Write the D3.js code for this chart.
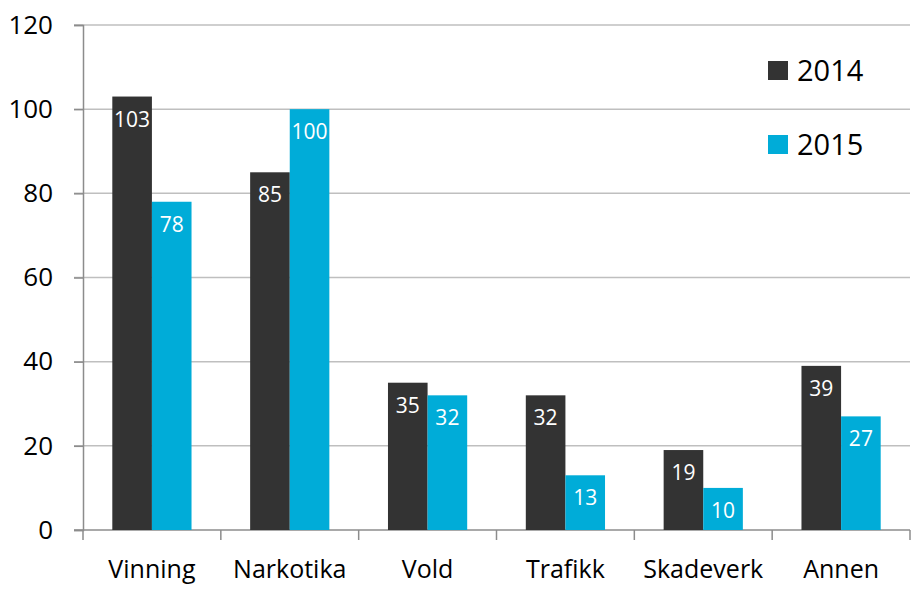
<!DOCTYPE html>
<head>
    <meta charset="utf-8">
    <script src="https://d3js.org/d3.v7.min.js"></script>
    <style>
      body { margin: 0; background: white; }
      text { font-family: "Open Sans", sans-serif; fill: #000; }
    </style>
</head>
<body>
    <script>
        var categories = ["Vinning", "Narkotika", "Vold", "Trafikk", "Skadeverk", "Annen"]
        var years = ["2014", "2015"]
        var values2014 = [103, 85, 35, 32, 19, 39]
        var values2015 = [78, 100, 32, 13, 10, 27]
        var yTicks = [0, 20, 40, 60, 80, 100, 120]
        var colors = ["#333333", "#00acd8"]

        var svg_w = 912, svg_h = 589
        var mLeft = 83, mRight = 910, mTop = 25, mBottom = 530

        var svg = d3.select("body").append("svg")
          .attr("width", svg_w)
          .attr("height", svg_h)

        var x0 = d3.scaleBand().domain(categories).range([mLeft, mRight]).padding(0)
        var x1 = d3.scaleBand().domain(years).range([0, x0.bandwidth()]).paddingInner(0).paddingOuter(0.74)
        var y = d3.scaleLinear().domain([0, 120]).range([mBottom, mTop])

        // gridlines
        svg.append("g").selectAll("line")
          .data(yTicks.filter(function(d){ return d > 0 }))
          .enter().append("line")
          .attr("x1", mLeft - 9).attr("x2", mRight)
          .attr("y1", function(d){ return y(d) }).attr("y2", function(d){ return y(d) })
          .attr("stroke", "#bfbfbf").attr("stroke-width", 1.5)

        // y axis
        var yAxis = svg.append("g")
          .attr("transform", "translate(" + mLeft + ",0)")
          .call(d3.axisLeft(y).tickValues(yTicks).tickSize(9).tickPadding(21))
        yAxis.select(".domain").attr("stroke", "#8c8c8c").attr("stroke-width", 1.5)
        yAxis.selectAll("line").attr("stroke", "#8c8c8c").attr("stroke-width", 1.5)
        yAxis.selectAll("text").attr("font-size", "26px").attr("fill", "#000")
          .attr("font-family", "'Open Sans', sans-serif")

        // x axis
        var xAxis = svg.append("g")
          .attr("transform", "translate(0," + mBottom + ")")
          .call(d3.axisBottom(x0).tickSize(0).tickPadding(30))
        xAxis.select(".domain").remove()
        xAxis.append("line").attr("x1", mLeft - 9).attr("x2", mRight)
          .attr("stroke", "#8c8c8c").attr("stroke-width", 1.5)
        xAxis.selectAll(".sep")
          .data(categories.concat(["end"]))
          .enter().append("line")
          .attr("x1", function(d, i){ return mLeft + i * x0.step() })
          .attr("x2", function(d, i){ return mLeft + i * x0.step() })
          .attr("y1", 0).attr("y2", 10)
          .attr("stroke", "#8c8c8c").attr("stroke-width", 1.5)
        xAxis.selectAll(".tick text").attr("font-size", "25px").attr("fill", "#000")
          .attr("font-family", "'Open Sans', sans-serif")

        // bars
        var rows = categories.map(function(c, i){
          return {cat: c, vals: [{year: "2014", v: values2014[i]}, {year: "2015", v: values2015[i]}]}
        })
        var groups = svg.append("g").selectAll("g")
          .data(rows).enter().append("g")
          .attr("transform", function(d){ return "translate(" + x0(d.cat) + ",0)" })

        groups.selectAll("rect")
          .data(function(d){ return d.vals })
          .enter().append("rect")
          .attr("x", function(d){ return x1(d.year) })
          .attr("width", x1.bandwidth())
          .attr("y", function(d){ return y(d.v) })
          .attr("height", function(d){ return mBottom - y(d.v) })
          .attr("fill", function(d, i){ return colors[i] })

        groups.selectAll(".lbl")
          .data(function(d){ return d.vals })
          .enter().append("text")
          .attr("x", function(d){ return x1(d.year) + x1.bandwidth() / 2 })
          .attr("y", function(d){ return y(d.v) + 30 })
          .attr("text-anchor", "middle")
          .attr("font-size", "21px")
          .style("fill", "#fff")
          .text(function(d){ return d.v })

        // legend
        var legend = svg.append("g").selectAll("g")
          .data(years).enter().append("g")
          .attr("transform", function(d, i){ return "translate(768," + (61 + i * 74) + ")" })
        legend.append("rect").attr("width", 20).attr("height", 19)
          .attr("fill", function(d, i){ return colors[i] })
        legend.append("text").attr("x", 29).attr("y", 20)
          .attr("font-size", "29px").text(function(d){ return d })
    </script>
</body>
